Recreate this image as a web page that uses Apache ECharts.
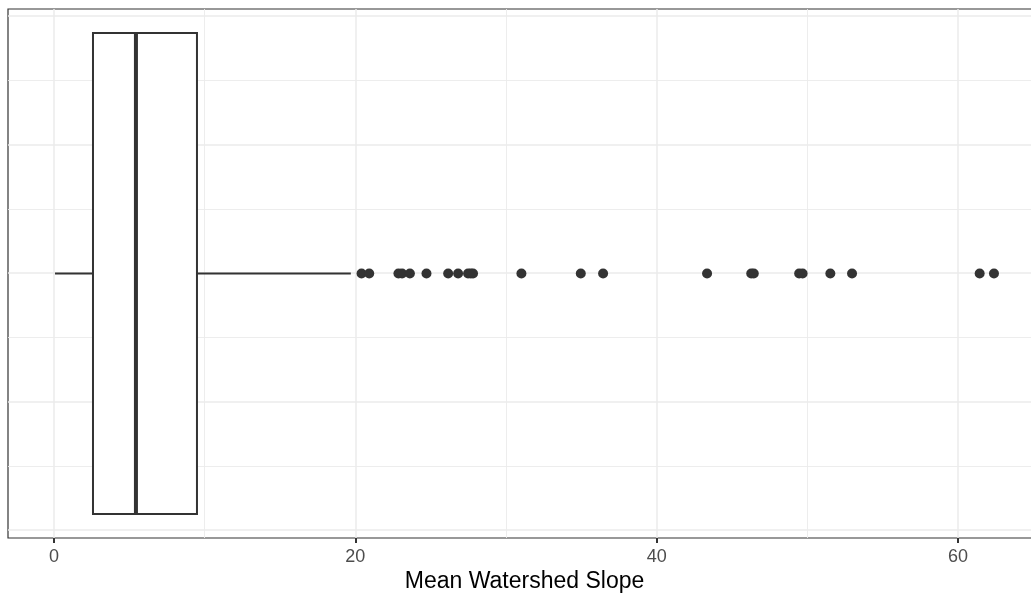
<!DOCTYPE html>
<html>
<head>
<meta charset="utf-8">
<script src="https://cdn.jsdelivr.net/npm/echarts@6/dist/echarts.min.js"></script>
<style>
html,body{margin:0;padding:0;background:#fff;}
#chart{width:1031px;height:596px;}
</style>
</head>
<body>
<div id="chart"></div>
<script>
// ---- data ----
const boxStats = [0.07, 2.59, 5.44, 9.49, 19.70]; // lower whisker, Q1, median, Q3, upper whisker
const outliers = [20.41, 20.92, 22.86, 23.10, 23.62, 24.72, 26.16, 26.82, 27.48, 27.66, 27.81,
                  31.02, 34.96, 36.44, 43.34, 46.27, 46.44, 49.45, 49.68, 51.52, 52.96, 61.43, 62.38];
const xTicks = [0, 20, 40, 60];
const xTitle = 'Mean Watershed Slope';

// ---- styles ----
const FONT = 'Liberation Sans, Arial, sans-serif';
const INK = '#333333';
const GRIDC = '#ebebeb';
const BOX_HALF = 0.375;

const chart = echarts.init(document.getElementById('chart'));
chart.setOption({
  animation: false,
  backgroundColor: '#ffffff',
  textStyle: { fontFamily: FONT },
  grid: [
    { left: 54, width: 904, top: 9, bottom: 58, outerBoundsMode: 'none', containLabel: false },   // vertical grid lines + tick labels
    { left: 8, width: 1033, top: 16, bottom: 66, outerBoundsMode: 'none', containLabel: false },  // horizontal grid lines
    { left: 8, width: 1033, top: 9, bottom: 58, outerBoundsMode: 'none', containLabel: false,
      show: true, borderColor: INK, borderWidth: 1.2, backgroundColor: 'transparent' }           // main panel
  ],
  xAxis: [
    {
      gridIndex: 0, type: 'value', min: xTicks[0], max: xTicks[xTicks.length - 1], interval: xTicks[1] - xTicks[0],
      position: 'bottom',
      axisLine: { show: false, onZero: false },
      axisTick: { show: true, inside: false, length: 5, lineStyle: { color: INK, width: 2 } },
      axisLabel: { fontSize: 18, color: '#4d4d4d', margin: 10, fontFamily: FONT },
      splitLine: { show: true, lineStyle: { color: GRIDC, width: 1.5 } },
      minorTick: { show: false, splitNumber: 2 },
      minorSplitLine: { show: true, lineStyle: { color: GRIDC, width: 0.9 } }
    },
    {
      gridIndex: 1, type: 'value', min: -3.05, max: 65.5, show: false,
      axisLine: { onZero: false },
      splitLine: { show: false }
    },
    {
      gridIndex: 2, type: 'value', min: -3.05, max: 65.5,
      position: 'bottom',
      axisLine: { show: false, onZero: false }, axisTick: { show: false }, axisLabel: { show: false },
      splitLine: { show: false },
      name: xTitle, nameLocation: 'middle', nameGap: 32,
      nameTextStyle: { fontSize: 23, color: '#000000', fontFamily: FONT }
    }
  ],
  yAxis: [
    { gridIndex: 0, type: 'value', min: -0.4, max: 0.4, show: false, axisLine: { onZero: false }, splitLine: { show: false } },
    {
      gridIndex: 1, type: 'value', min: -0.4, max: 0.4, interval: 0.2,
      axisLine: { show: false, onZero: false }, axisTick: { show: false }, axisLabel: { show: false },
      splitLine: { show: true, lineStyle: { color: GRIDC, width: 1.5 } },
      minorTick: { show: false, splitNumber: 2 },
      minorSplitLine: { show: true, lineStyle: { color: GRIDC, width: 0.9 } }
    },
    { gridIndex: 2, type: 'value', min: -0.4125, max: 0.4125, show: false, axisLine: { onZero: false }, splitLine: { show: false } }
  ],
  series: [
    {
      type: 'custom', xAxisIndex: 2, yAxisIndex: 2, z: 3,
      data: [boxStats.concat([0])],
      encode: { x: [0, 1, 2, 3, 4], y: 5 },
      renderItem: function (params, api) {
        const lo = api.value(0), q1 = api.value(1), med = api.value(2), q3 = api.value(3), hi = api.value(4);
        const pLo = api.coord([lo, 0]), pQ1 = api.coord([q1, 0]), pMed = api.coord([med, 0]),
              pQ3 = api.coord([q3, 0]), pHi = api.coord([hi, 0]);
        const top = api.coord([q1, BOX_HALF])[1], bot = api.coord([q1, -BOX_HALF])[1];
        const yc = pQ1[1];
        return {
          type: 'group',
          children: [
            { type: 'line', shape: { x1: pLo[0], y1: yc, x2: pQ1[0], y2: yc }, style: { stroke: INK, lineWidth: 1.8 } },
            { type: 'line', shape: { x1: pQ3[0], y1: yc, x2: pHi[0], y2: yc }, style: { stroke: INK, lineWidth: 1.8 } },
            { type: 'rect', shape: { x: pQ1[0], y: top, width: pQ3[0] - pQ1[0], height: bot - top },
              style: { fill: '#ffffff', stroke: INK, lineWidth: 2 } },
            { type: 'line', shape: { x1: pMed[0], y1: top, x2: pMed[0], y2: bot }, style: { stroke: INK, lineWidth: 4 } }
          ]
        };
      }
    },
    {
      type: 'scatter', xAxisIndex: 2, yAxisIndex: 2, z: 4,
      symbol: 'circle', symbolSize: 10,
      itemStyle: { color: INK, opacity: 1 },
      data: outliers.map(v => [v, 0])
    }
  ]
});
</script>
</body>
</html>
